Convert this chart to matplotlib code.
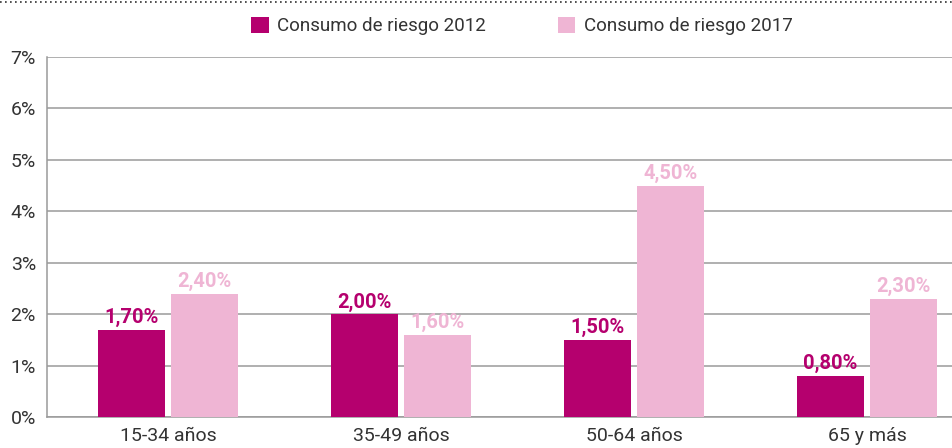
import matplotlib.pyplot as plt
from matplotlib.lines import Line2D
import numpy as np

# Datos
categorias = ['15-34 años', '35-49 años', '50-64 años', '65 y más']
riesgo_2012 = [1.7, 2.0, 1.5, 0.8]
riesgo_2017 = [2.4, 1.6, 4.5, 2.3]
etiquetas_2012 = ['1,70%', '2,00%', '1,50%', '0,80%']
etiquetas_2017 = ['2,40%', '1,60%', '4,50%', '2,30%']
yticks = [0, 1, 2, 3, 4, 5, 6, 7]

color_2012 = '#b5006e'
color_2017 = '#efb5d4'
gris = '#9a9a9a'
texto = '#333333'

plt.rcParams['font.family'] = ['Roboto', 'DejaVu Sans']

fig = plt.figure(figsize=(9.53, 4.48), dpi=100)
ax = fig.add_axes([47 / 953, 31 / 448, 1 - 47 / 953, 360 / 448])

x = np.arange(len(categorias))
w = 0.288
off = 0.157

ax.bar(x - off, riesgo_2012, w, color=color_2012, label='Consumo de riesgo 2012', zorder=3)
ax.bar(x + off, riesgo_2017, w, color=color_2017, label='Consumo de riesgo 2017', zorder=3)

for i in range(len(categorias)):
    ax.text(x[i] - off, riesgo_2012[i] + 0.05, etiquetas_2012[i], ha='center', va='bottom',
            color=color_2012, fontsize=14.5, fontweight='bold')
    ax.text(x[i] + off, riesgo_2017[i] + 0.05, etiquetas_2017[i], ha='center', va='bottom',
            color=color_2017, fontsize=14.5, fontweight='bold')

ax.set_ylim(0, 7)
ax.set_xlim(-0.519, 3.369)
ax.set_yticks(yticks)
ax.set_yticklabels([f'{v}%' for v in yticks])
ax.set_xticks(x)
ax.set_xticklabels(categorias)
ax.tick_params(axis='both', length=0, labelsize=14, colors=texto)
ax.tick_params(axis='y', pad=8)
ax.tick_params(axis='x', pad=7)
ax.yaxis.grid(True, color=gris, linewidth=1.1, zorder=0)
ax.set_axisbelow(True)
for s in ['top', 'right']:
    ax.spines[s].set_visible(False)
ax.spines['left'].set_color(gris)
ax.spines['left'].set_linewidth(1.1)
ax.spines['bottom'].set_color(gris)
ax.spines['bottom'].set_linewidth(1.1)

fig.legend(loc='center', bbox_to_anchor=(522 / 953, 1 - 26 / 448), ncol=2, frameon=False,
           fontsize=13.5, handlelength=0.95, handleheight=0.95, columnspacing=3.8,
           handletextpad=0.45, labelcolor=texto)

# linea punteada superior
fig.add_artist(Line2D([0, 1], [1 - 2 / 448, 1 - 2 / 448], color='#333333', linestyle=(0, (1, 2)),
                      linewidth=1.2, transform=fig.transFigure))

fig.savefig('out.png', dpi=100)
